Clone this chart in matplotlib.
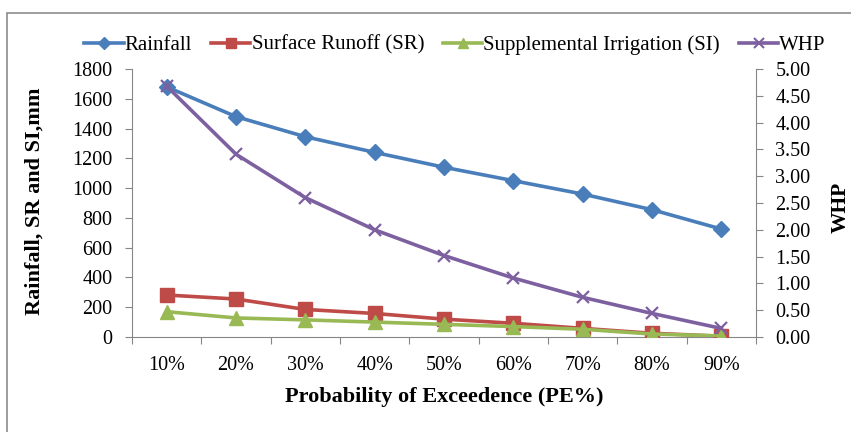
import matplotlib
matplotlib.use("Agg")
import matplotlib.pyplot as plt
from matplotlib.lines import Line2D
from matplotlib.patches import Rectangle

categories = ["10%", "20%", "30%", "40%", "50%", "60%", "70%", "80%", "90%"]
rainfall = [1680, 1480, 1345, 1240, 1140, 1050, 960, 855, 725]
surface_runoff = [282, 255, 185, 158, 120, 92, 58, 25, 5]
supplemental_irrigation = [170, 128, 115, 100, 85, 70, 52, 20, 7]
whp = [4.68, 3.41, 2.60, 2.00, 1.52, 1.10, 0.74, 0.44, 0.16]

left_ticks = [0, 200, 400, 600, 800, 1000, 1200, 1400, 1600, 1800]
right_ticks = [0, 0.5, 1.0, 1.5, 2.0, 2.5, 3.0, 3.5, 4.0, 4.5, 5.0]

plt.rcParams["font.family"] = ["Liberation Serif", "DejaVu Serif"]

c_rain = "#4A7EBB"
c_sr = "#BE4B48"
c_si = "#98B954"
c_whp = "#7D60A0"
c_axis = "#868686"

fig = plt.figure(figsize=(8.51, 4.32), dpi=100)
fig.patches.append(Rectangle((7 / 851, -0.1), 1.2, 1 - 13 / 432 + 0.1,
                             transform=fig.transFigure, fill=False,
                             edgecolor="#8c8c8c", linewidth=1.2, zorder=0))

ax = fig.add_axes([132 / 851, 1 - 337 / 432, (756 - 132) / 851, (337 - 69) / 432])
ax2 = ax.twinx()

x = list(range(len(categories)))
lw = 2.6
ax.plot(x, rainfall, color=c_rain, lw=lw, marker="D", ms=8.5, zorder=5)
ax.plot(x, surface_runoff, color=c_sr, lw=lw, marker="s", ms=10, zorder=4)
ax.plot(x, supplemental_irrigation, color=c_si, lw=lw, marker="^", ms=10, zorder=6)
ax2.plot(x, whp, color=c_whp, lw=lw, marker="x", ms=9, mew=1.6, zorder=3)

ax.set_xlim(-0.5, len(categories) - 0.5)
ax.set_ylim(0, 1800)
ax2.set_ylim(0, 5)

ax.set_yticks(left_ticks)
ax.set_yticklabels([str(v) for v in left_ticks])
ax2.set_yticks(right_ticks)
ax2.set_yticklabels([f"{v:.2f}" for v in right_ticks])

ax.set_xticks([i - 0.5 for i in range(len(categories) + 1)])
ax.set_xticklabels([])
ax.set_xticks(x, minor=True)
ax.set_xticklabels(categories, minor=True)
ax.tick_params(axis="x", which="minor", length=0, pad=14, labelsize=14.5)
ax.tick_params(axis="x", which="major", length=5, direction="out", color=c_axis)
ax.tick_params(axis="y", length=5, direction="out", color=c_axis, labelsize=14.5, pad=9)
ax2.tick_params(axis="y", length=5, direction="out", color=c_axis, labelsize=14.5, pad=9)

for a in (ax, ax2):
    for s in a.spines.values():
        s.set_visible(False)
ax.spines["left"].set_visible(True)
ax.spines["left"].set_color(c_axis)
ax.spines["bottom"].set_visible(True)
ax.spines["bottom"].set_color(c_axis)
ax2.spines["right"].set_visible(True)
ax2.spines["right"].set_color(c_axis)

ax.set_xlabel("Probability of Exceedence (PE%)", fontsize=16, fontweight="bold", labelpad=8)
ax.set_ylabel("Rainfall, SR and SI,mm", fontsize=16, fontweight="bold")
ax.yaxis.set_label_coords(45 / 851, 1 - 201 / 432, transform=fig.transFigure)
ax2.set_ylabel("WHP", fontsize=15.5, fontweight="bold")
ax2.yaxis.set_label_coords(831 / 851, 1 - 207 / 432, transform=fig.transFigure)

handles = [
    Line2D([], [], color=c_rain, lw=lw, marker="D", ms=6),
    Line2D([], [], color=c_sr, lw=lw, marker="s", ms=7),
    Line2D([], [], color=c_si, lw=lw, marker="^", ms=7),
    Line2D([], [], color=c_whp, lw=lw, marker="x", ms=7, mew=1.5),
]
labels = ["Rainfall", "Surface Runoff (SR)", "Supplemental Irrigation (SI)", "WHP"]
fig.legend(handles, labels, loc="center", bbox_to_anchor=(455 / 851, 1 - 45 / 432),
           ncol=4, frameon=False, fontsize=15, handlelength=1.9, handletextpad=0.05,
           columnspacing=0.9)

fig.savefig("out.png", dpi=100)
